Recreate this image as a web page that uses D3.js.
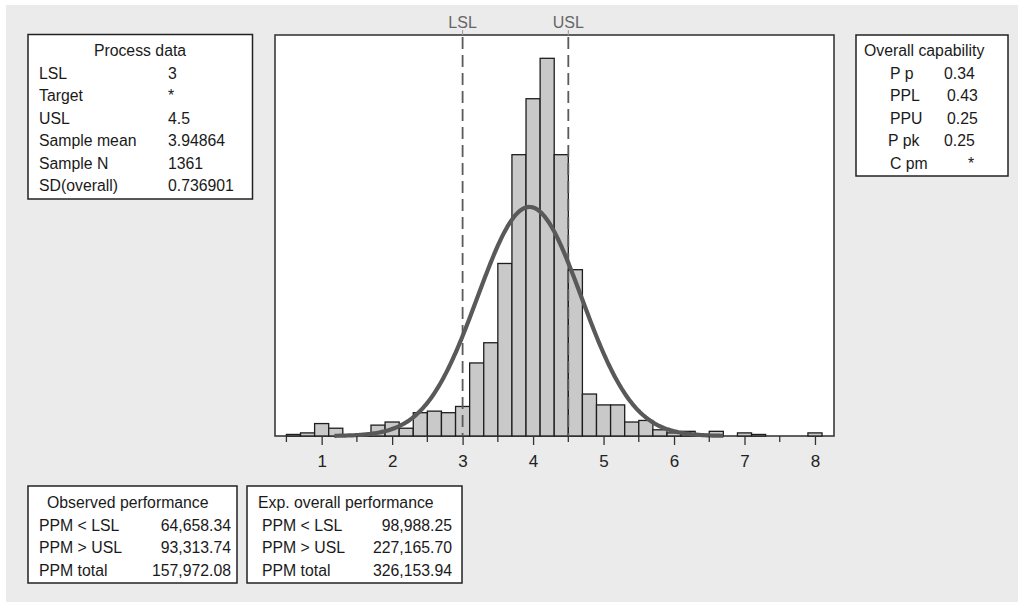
<!DOCTYPE html>
<html>
<head>
<meta charset="utf-8">
<script src="https://cdn.jsdelivr.net/npm/d3@7"></script>
<style>
  body { margin: 0; background: #fff; }
  svg { display: block; font-family: "Liberation Sans", Arial, sans-serif; }
</style>
</head>
<body>
<svg id="chart" width="1018" height="602"></svg>
<script>
// histogram bins, width 0.2, left edge of each bin
const binStarts = [0.5, 0.7, 0.9, 1.1, 1.3, 1.5, 1.7, 1.9, 2.1, 2.3, 2.5, 2.7, 2.9, 3.1, 3.3, 3.5, 3.7, 3.9,
                   4.1, 4.3, 4.5, 4.7, 4.9, 5.1, 5.3, 5.5, 5.7, 5.9, 6.1, 6.3, 6.5, 6.7, 6.9, 7.1, 7.3, 7.5, 7.7, 7.9];
const binCounts = [1, 2, 8, 5, 0, 1, 7, 9, 5, 15, 16, 15, 19, 47, 60, 111, 181, 217,
                   243, 181, 107, 27, 20, 20, 9, 10, 4, 2, 3, 1, 3, 0, 2, 1, 0, 0, 0, 2];
const binWidth = 0.2;

const xTicks = [1, 2, 3, 4, 5, 6, 7, 8];
const xMinorTicks = [0.5, 1.5, 2.5, 3.5, 4.5, 5.5, 6.5, 7.5];

// spec limits
const specNames = ["LSL", "USL"];
const specValues = [3, 4.5];

// fitted normal
const sampleMean = 3.94864;
const sampleSD = 0.736901;
const sampleN = 1361;
const curveRange = [1.18, 6.71];

// text tables
const processLabels = ["LSL", "Target", "USL", "Sample mean", "Sample N", "SD(overall)"];
const processValues = ["3", "*", "4.5", "3.94864", "1361", "0.736901"];
const capLabels = ["P p", "PPL", "PPU", "P pk", "C pm"];
const capValues = ["0.34", "0.43", "0.25", "0.25", "*"];
const perfLabels = ["PPM < LSL", "PPM > USL", "PPM total"];
const observedValues = ["64,658.34", "93,313.74", "157,972.08"];
const expectedValues = ["98,988.25", "227,165.70", "326,153.94"];

const svg = d3.select("#chart");

// gray page background
svg.append("rect")
    .attr("x", 6).attr("y", 5)
    .attr("width", 1012).attr("height", 597)
    .attr("fill", "#ebebeb");

const plot = {left: 275, right: 834, top: 35, bottom: 436};

const x = d3.scaleLinear()
    .domain([0.338, 8.27])
    .range([plot.left, plot.right]);
const y = d3.scaleLinear()
    .domain([0, 258])
    .range([plot.bottom, plot.top]);

// plot frame
svg.append("rect")
    .attr("x", plot.left).attr("y", plot.top)
    .attr("width", plot.right - plot.left).attr("height", plot.bottom - plot.top)
    .attr("fill", "#fff")
    .attr("stroke", "#3a3a3a")
    .attr("stroke-width", 1.6);

// bars
svg.append("g")
    .selectAll("rect")
    .data(binStarts)
    .enter()
    .append("rect")
    .attr("x", d => x(d))
    .attr("width", d => x(d + binWidth) - x(d))
    .attr("y", (d, i) => y(binCounts[i]))
    .attr("height", (d, i) => y(0) - y(binCounts[i]))
    .attr("fill", "#c9c9c9")
    .attr("stroke", "#1e1e1e")
    .attr("stroke-width", 1.3);

// spec lines
specValues.forEach(function(v, i) {
    svg.append("line")
        .attr("x1", x(v)).attr("x2", x(v))
        .attr("y1", plot.top + 2).attr("y2", plot.bottom)
        .attr("stroke", "#5a5a5a")
        .attr("stroke-width", 1.8)
        .attr("stroke-dasharray", "12,6");
    svg.append("line")
        .attr("x1", x(v)).attr("x2", x(v))
        .attr("y1", plot.top - 5).attr("y2", plot.top)
        .attr("stroke", "#999");
    svg.append("text")
        .attr("x", x(v)).attr("y", 28)
        .attr("text-anchor", "middle")
        .attr("font-size", 16)
        .attr("fill", "#666")
        .text(specNames[i]);
});

// normal fit, scaled to counts per bin
const density = v => sampleN * binWidth / (sampleSD * Math.sqrt(2 * Math.PI)) *
    Math.exp(-0.5 * Math.pow((v - sampleMean) / sampleSD, 2));
const curvePts = d3.range(curveRange[0], curveRange[1] + 0.001, 0.02);
svg.append("path")
    .datum(curvePts)
    .attr("fill", "none")
    .attr("stroke", "#595959")
    .attr("stroke-width", 4.2)
    .attr("d", d3.line().x(d => x(d)).y(d => y(density(d))));

// x axis ticks
svg.append("g")
    .selectAll("line.minor")
    .data(xMinorTicks)
    .enter()
    .append("line")
    .attr("x1", d => x(d)).attr("x2", d => x(d))
    .attr("y1", plot.bottom).attr("y2", plot.bottom + 6)
    .attr("stroke", "#333").attr("stroke-width", 1.3);
const xAxis = svg.append("g")
    .attr("transform", "translate(0," + plot.bottom + ")")
    .call(d3.axisBottom(x).tickValues(xTicks).tickSize(9).tickPadding(10).tickFormat(d3.format("d")));
xAxis.select(".domain").remove();
xAxis.selectAll("line").attr("stroke", "#333").attr("stroke-width", 1.3);
xAxis.selectAll("text")
    .attr("font-size", 17)
    .attr("font-family", "Liberation Sans, Arial, sans-serif")
    .attr("fill", "#222");

// text boxes
function box(x0, y0, w, h) {
    svg.append("rect")
        .attr("x", x0).attr("y", y0)
        .attr("width", w).attr("height", h)
        .attr("fill", "#fff")
        .attr("stroke", "#222")
        .attr("stroke-width", 1.5);
}
function label(tx, ty, str, anchor) {
    svg.append("text")
        .attr("x", tx).attr("y", ty)
        .attr("text-anchor", anchor || "start")
        .attr("dominant-baseline", "central")
        .attr("font-size", 15.8)
        .attr("fill", "#1a1a1a")
        .text(str);
}

// Process data
box(28, 34.5, 224.5, 164.5);
label(140, 50, "Process data", "middle");
processLabels.forEach(function(s, i) {
    label(39, 73 + i * 22.5, s);
    label(168, 73 + i * 22.5, processValues[i]);
});

// Overall capability
box(856, 35, 152, 141);
label(864, 50, "Overall capability");
const capLabelX = [890, 890, 890, 888, 890];
const capValueX = [944, 947, 947, 944, 968];
capLabels.forEach(function(s, i) {
    label(capLabelX[i], 73 + i * 22.5, s);
    label(capValueX[i], 73 + i * 22.5, capValues[i]);
});

// Observed performance
box(28, 486, 209, 97);
label(47, 502, "Observed performance");
perfLabels.forEach(function(s, i) {
    label(39, 525 + i * 22.5, s);
    label(231, 525 + i * 22.5, observedValues[i], "end");
});

// Exp. overall performance
box(247, 486, 215, 97);
label(258, 502, "Exp. overall performance");
perfLabels.forEach(function(s, i) {
    label(262, 525 + i * 22.5, s);
    label(452, 525 + i * 22.5, expectedValues[i], "end");
});
</script>
</body>
</html>
